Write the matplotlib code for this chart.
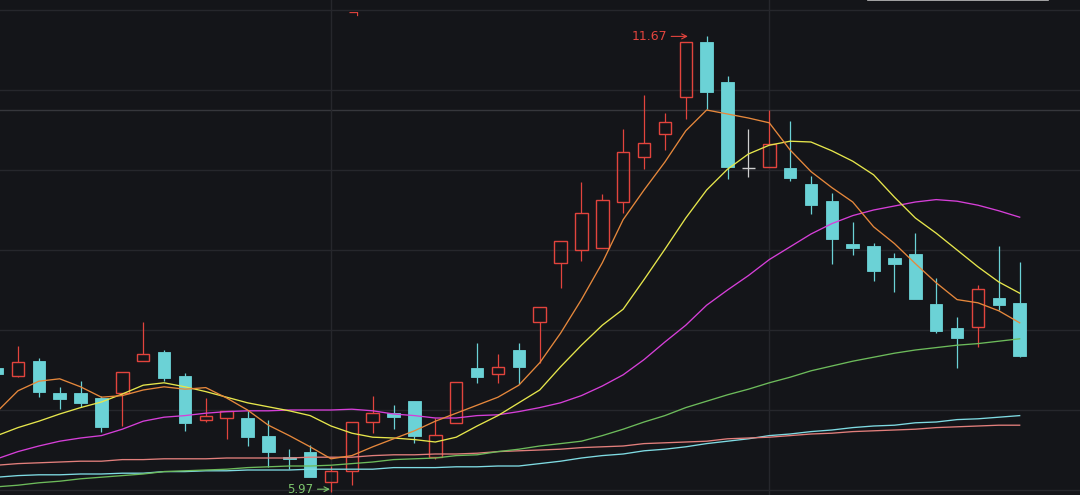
import numpy as np
import matplotlib
matplotlib.use('Agg')
from matplotlib import pyplot as plt
from matplotlib.lines import Line2D

# daily candles
opens = [7.53, 7.43, 7.61, 7.21, 7.21, 7.15, 7.21, 7.61, 7.73, 7.43,
         6.88, 6.90, 6.90, 6.68, 6.41, 6.48, 6.10, 6.24, 6.85, 6.96,
         7.11, 6.41, 6.84, 7.53, 7.45, 7.75, 8.10, 8.84, 9.00, 9.03,
         9.60, 10.16, 10.45, 10.91, 11.60, 11.10, 10.02, 10.04, 10.03, 9.83,
         9.61, 9.08, 9.05, 8.90, 8.95, 8.33, 8.03, 8.04, 8.40, 8.34]
highs = [7.55, 7.80, 7.65, 7.29, 7.36, 7.18, 7.48, 8.10, 7.75, 7.46,
         7.15, 6.99, 6.99, 6.88, 6.51, 6.56, 6.30, 6.85, 7.18, 7.06,
         7.11, 6.90, 7.35, 7.84, 7.70, 7.84, 8.29, 9.11, 9.85, 9.70,
         10.51, 10.94, 10.71, 11.60, 11.67, 11.18, 10.51, 10.75, 10.61, 9.93,
         9.71, 9.35, 9.09, 8.96, 9.21, 8.65, 8.16, 8.56, 9.05, 8.85]
lows = [7.43, 7.41, 7.16, 7.01, 7.04, 6.73, 6.80, 7.61, 7.36, 6.74,
        6.85, 6.64, 6.55, 6.29, 6.26, 6.16, 5.97, 6.06, 6.71, 6.76,
        6.59, 6.39, 6.84, 7.34, 7.34, 7.33, 7.59, 8.53, 8.86, 9.03,
        9.46, 10.01, 10.25, 10.64, 10.76, 9.89, 9.91, 10.04, 9.86, 9.45,
        8.83, 8.94, 8.61, 8.48, 8.39, 7.96, 7.53, 7.79, 8.25, 7.66]
closes = [7.45, 7.60, 7.23, 7.14, 7.09, 6.79, 7.48, 7.70, 7.40, 6.84,
          6.93, 6.99, 6.66, 6.48, 6.39, 6.16, 6.24, 6.85, 6.96, 6.91,
          6.68, 6.69, 7.35, 7.41, 7.54, 7.54, 8.29, 9.11, 9.46, 9.63,
          10.23, 10.34, 10.60, 11.60, 10.98, 10.04, 10.02, 10.33, 9.90, 9.56,
          9.14, 9.03, 8.74, 8.83, 8.39, 7.99, 7.90, 8.51, 8.31, 7.68]

# moving average lines as drawn in the reference
ma5 = [6.98, 7.24, 7.36, 7.39, 7.29, 7.16, 7.18, 7.25, 7.29, 7.26,
       7.28, 7.15, 7.00, 6.81, 6.68, 6.54, 6.39, 6.43, 6.54, 6.64,
       6.74, 6.86, 6.96, 7.06, 7.16, 7.31, 7.59, 7.96, 8.38, 8.84,
       9.38, 9.75, 10.10, 10.49, 10.75, 10.70, 10.65, 10.59, 10.25, 9.98,
       9.78, 9.60, 9.29, 9.08, 8.83, 8.59, 8.38, 8.34, 8.24, 8.09]
ma10 = [6.68, 6.78, 6.86, 6.95, 7.03, 7.10, 7.20, 7.31, 7.34, 7.29,
        7.23, 7.16, 7.09, 7.04, 6.99, 6.93, 6.80, 6.71, 6.66, 6.65,
        6.63, 6.60, 6.66, 6.80, 6.93, 7.09, 7.25, 7.54, 7.81, 8.06,
        8.26, 8.63, 9.01, 9.40, 9.75, 10.01, 10.20, 10.31, 10.36, 10.35,
        10.24, 10.11, 9.94, 9.66, 9.40, 9.21, 9.00, 8.79, 8.60, 8.46]
ma20 = [6.39, 6.48, 6.55, 6.61, 6.65, 6.68, 6.76, 6.86, 6.91, 6.93,
        6.96, 6.98, 6.99, 6.99, 7.00, 7.00, 7.00, 7.01, 6.99, 6.95,
        6.93, 6.90, 6.90, 6.93, 6.94, 6.98, 7.03, 7.09, 7.18, 7.30,
        7.44, 7.63, 7.85, 8.06, 8.31, 8.50, 8.68, 8.88, 9.04, 9.20,
        9.33, 9.43, 9.50, 9.55, 9.60, 9.63, 9.61, 9.56, 9.49, 9.41]
ma60 = [6.04, 6.06, 6.09, 6.11, 6.14, 6.16, 6.18, 6.20, 6.23, 6.24,
        6.25, 6.26, 6.28, 6.29, 6.30, 6.30, 6.31, 6.33, 6.35, 6.38,
        6.39, 6.40, 6.43, 6.44, 6.48, 6.51, 6.55, 6.58, 6.61, 6.68,
        6.76, 6.85, 6.93, 7.03, 7.11, 7.19, 7.26, 7.34, 7.41, 7.49,
        7.55, 7.61, 7.66, 7.71, 7.75, 7.78, 7.81, 7.83, 7.86, 7.89]
ma120 = [6.31, 6.33, 6.34, 6.35, 6.36, 6.36, 6.38, 6.38, 6.39, 6.39,
         6.39, 6.40, 6.40, 6.40, 6.40, 6.41, 6.41, 6.41, 6.43, 6.44,
         6.44, 6.45, 6.45, 6.46, 6.48, 6.49, 6.50, 6.51, 6.53, 6.54,
         6.55, 6.58, 6.59, 6.60, 6.61, 6.64, 6.65, 6.66, 6.68, 6.70,
         6.71, 6.73, 6.74, 6.75, 6.76, 6.78, 6.79, 6.80, 6.81, 6.81]
ma250 = [6.16, 6.18, 6.19, 6.19, 6.20, 6.20, 6.21, 6.21, 6.23, 6.23,
         6.24, 6.24, 6.25, 6.25, 6.25, 6.26, 6.26, 6.26, 6.26, 6.28,
         6.28, 6.28, 6.29, 6.29, 6.30, 6.30, 6.33, 6.36, 6.40, 6.43,
         6.45, 6.49, 6.51, 6.54, 6.58, 6.61, 6.64, 6.68, 6.70, 6.73,
         6.75, 6.78, 6.80, 6.81, 6.84, 6.85, 6.88, 6.89, 6.91, 6.93]

grid_prices = [6, 7, 8, 9, 10, 11, 12]
ref_price = 10.75
divider_days = [16, 37]
max_label = '11.67'
min_label = '5.97'

BG = '#141519'
GRID = '#26272c'
UP = '#e2443d'
DOWN = '#6bd2d6'
DOJI = '#cfcfcf'


def draw_candles(ax):
    x = np.arange(len(opens))
    for i in x:
        o, h, l, c = opens[i], highs[i], lows[i], closes[i]
        top, bot = max(o, c), min(o, c)
        if c > o:
            color = UP
        elif c < o:
            color = DOWN
        else:
            color = DOJI
        ax.vlines(i, top, h, color=color, lw=0.9, zorder=2)
        ax.vlines(i, l, bot, color=color, lw=0.9, zorder=2)
        if c > o:
            ax.bar(i, top - bot, bottom=bot, width=0.6, facecolor='none',
                   edgecolor=color, linewidth=1.0, zorder=3)
        elif c < o:
            ax.bar(i, top - bot, bottom=bot, width=0.6, facecolor=color,
                   edgecolor=color, linewidth=0.6, zorder=3)
        else:
            ax.hlines(o, i - 0.3, i + 0.3, color=color, lw=1.0, zorder=3)


def draw_averages(ax):
    x = np.arange(len(closes))
    lines = [(ma250, '#7fdbe3'), (ma120, '#e27f7c'), (ma60, '#6dbb5b'),
             (ma20, '#d63fd8'), (ma10, '#e6e64c'), (ma5, '#e6883c')]
    for values, color in lines:
        ax.plot(x, values, color=color, lw=0.95, zorder=4)


fig = plt.figure(figsize=(10.8, 4.95), dpi=100, facecolor=BG)
ax = fig.add_axes([0, 0, 1, 1], facecolor=BG)

for p in grid_prices:
    ax.axhline(p, color=GRID, lw=1.0, zorder=0)
ax.axhline(ref_price, color='#36373c', lw=1.0, zorder=0)
for d in divider_days:
    ax.axvline(d, color=GRID, lw=1.0, zorder=0)

draw_candles(ax)
draw_averages(ax)

# extreme price markers
hi_day = int(np.argmax(highs))
lo_day = int(np.argmin(lows))
ax.annotate(max_label, xy=(hi_day - 0.9, max(highs)), xytext=(-15, 0),
            textcoords='offset points', ha='right', va='center',
            color=UP, fontsize=9,
            arrowprops=dict(arrowstyle='->', color=UP, lw=0.8,
                            shrinkA=1, shrinkB=0))
ax.annotate(min_label, xy=(lo_day - 0.05, min(lows) + 0.04), xytext=(-12, 0),
            textcoords='offset points', ha='right', va='center',
            color='#7cc46c', fontsize=8.5,
            arrowprops=dict(arrowstyle='->', color='#7cc46c', lw=0.8,
                            shrinkA=1, shrinkB=0))

# small corner mark and the cut-off bar at the top edge
ax.text(0.3215, 0.985, '\u00ac', transform=ax.transAxes, color=UP,
        fontsize=10, ha='left', va='top')
fig.add_artist(Line2D([0.804, 0.97], [0.999, 0.999], color='#bdbdbd',
                      lw=1.2, transform=fig.transFigure))

ax.set_xlim(0.14, 51.89)
ax.set_ylim(5.9375, 12.125)
ax.axis('off')

fig.savefig('out.png', dpi=100, facecolor=BG)
